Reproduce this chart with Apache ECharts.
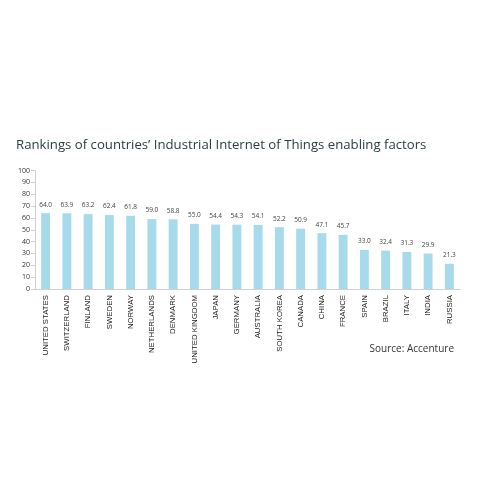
<!DOCTYPE html>
<html>
<head>
<meta charset="utf-8">
<script src="https://cdn.jsdelivr.net/npm/echarts@6/dist/echarts.min.js"></script>
<style>
  html, body { margin: 0; padding: 0; background: #fff; }
  #chart { width: 480px; height: 480px; }
</style>
</head>
<body>
<div id="chart"></div>
<script>
const countries = ["UNITED STATES", "SWITZERLAND", "FINLAND", "SWEDEN", "NORWAY", "NETHERLANDS",
  "DENMARK", "UNITED KINGDOM", "JAPAN", "GERMANY", "AUSTRALIA", "SOUTH KOREA", "CANADA",
  "CHINA", "FRANCE", "SPAIN", "BRAZIL", "ITALY", "INDIA", "RUSSIA"];
const scores = [64.0, 63.9, 63.2, 62.4, 61.8, 59.0, 58.8, 55.0, 54.4, 54.3, 54.1, 52.2, 50.9,
  47.1, 45.7, 33.0, 32.4, 31.3, 29.9, 21.3];

const chart = echarts.init(document.getElementById("chart"));
const option = {
  animation: false,
  title: [
    {
      text: "Rankings of countries’ Industrial Internet of Things enabling factors",
      left: 11, top: 134,
      textStyle: { fontFamily: "Open Sans", fontSize: 13.2, fontWeight: "normal", color: "#2b3d42" }
    },
    {
      text: "Source: Accenture",
      right: 21, top: 339,
      textStyle: { fontFamily: "Open Sans", fontSize: 10, fontWeight: "normal", color: "#333" }
    }
  ],
  grid: { left: 35, right: 20, top: 170.5, bottom: 191 },
  xAxis: {
    type: "category",
    data: countries,
    axisLine: { lineStyle: { color: "#d0d0d0" } },
    axisTick: { show: false },
    axisLabel: {
      rotate: 90, interval: 0, margin: 6,
      fontFamily: "Liberation Sans Narrow, Arial Narrow, sans-serif",
      fontSize: 7.8, color: "#222"
    }
  },
  yAxis: {
    type: "value", min: 0, max: 100, interval: 10,
    splitLine: { show: false },
    axisLine: { show: true, lineStyle: { color: "#d0d0d0" } },
    axisTick: { show: true, length: 4, lineStyle: { color: "#d0d0d0" } },
    axisLabel: { fontFamily: "Open Sans", fontSize: 7, color: "#333", margin: 5 }
  },
  series: [{
    type: "bar",
    data: scores,
    barWidth: "42%",
    itemStyle: { color: "#a7dbeb" },
    label: {
      show: true, position: "top", distance: 5,
      formatter: p => p.value.toFixed(1),
      fontFamily: "Open Sans", fontSize: 6.5, color: "#444"
    }
  }]
};
chart.setOption(option);
</script>
</body>
</html>
